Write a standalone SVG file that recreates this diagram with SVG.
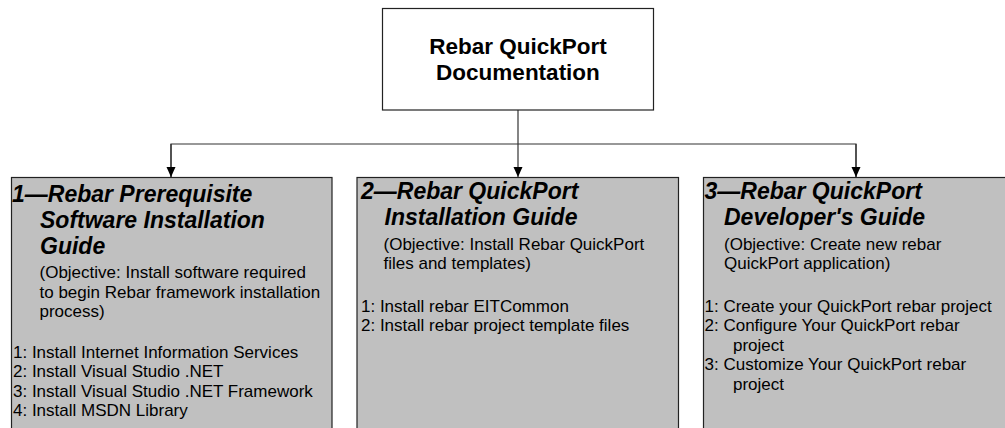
<svg xmlns="http://www.w3.org/2000/svg" width="1005" height="428" viewBox="0 0 1005 428">
<style>
.box{stroke:#222;stroke-width:1.2}
.top{fill:#fff}
.guide{fill:#c0c0c0}
.t{font-family:"Liberation Sans",Arial,sans-serif;fill:#000}
.h{font-size:22.5px;font-weight:bold}
.ht{font-size:23px;font-weight:bold;font-style:italic}
.b{font-size:17px}
.con{stroke:#333;stroke-width:1.2;fill:none}
</style>
<defs>
<marker id="arr" markerWidth="10" markerHeight="10" refX="10" refY="5" orient="auto" markerUnits="userSpaceOnUse">
<path d="M0,0.5 L10,5 L0,9.5 Z" fill="#000"/>
</marker>
</defs>
<g id="connectors">
<line class="con" x1="518" y1="110" x2="518" y2="177" marker-end="url(#arr)"/>
<polyline class="con" points="171,177 171,144 856,144 856,177"/>
<line class="con" x1="171" y1="144" x2="171" y2="177" marker-end="url(#arr)"/>
<line class="con" x1="856" y1="144" x2="856" y2="177" marker-end="url(#arr)"/>
</g>
<g id="root">
<rect class="box top" x="382.5" y="8.5" width="271" height="101.5"/>
<text class="t h" text-anchor="middle" x="518" y="53.5">Rebar QuickPort</text>
<text class="t h" text-anchor="middle" x="518" y="79.5">Documentation</text>
</g>
<g id="guide1">
<rect class="box guide" x="11.5" y="177.5" width="320.5" height="260"/>
<text class="t ht" x="12" y="201.5">1—Rebar Prerequisite</text>
<text class="t ht" x="40" y="227.5">Software Installation</text>
<text class="t ht" x="40" y="253.5">Guide</text>
<text class="t b" x="39.5" y="278">(Objective: Install software required</text>
<text class="t b" x="39.5" y="297.5">to begin Rebar framework installation</text>
<text class="t b" x="39.5" y="317">process)</text>
<text class="t b" x="13" y="357.5">1: Install Internet Information Services</text>
<text class="t b" x="13" y="377">2: Install Visual Studio .NET</text>
<text class="t b" x="13" y="396.5">3: Install Visual Studio .NET Framework</text>
<text class="t b" x="13" y="416">4: Install MSDN Library</text>
</g>
<g id="guide2">
<rect class="box guide" x="357" y="177.5" width="321.5" height="260"/>
<text class="t ht" x="361" y="198.5">2—Rebar QuickPort</text>
<text class="t ht" x="384.5" y="225">Installation Guide</text>
<text class="t b" x="383.5" y="250">(Objective: Install Rebar QuickPort</text>
<text class="t b" x="383.5" y="269">files and templates)</text>
<text class="t b" x="361" y="311.5">1: Install rebar EITCommon</text>
<text class="t b" x="361" y="331">2: Install rebar project template files</text>
</g>
<g id="guide3">
<rect class="box guide" x="703.5" y="177.5" width="320" height="260"/>
<text class="t ht" x="704.5" y="198.5">3—Rebar QuickPort</text>
<text class="t ht" x="724" y="225">Developer's Guide</text>
<text class="t b" x="724" y="250">(Objective: Create new rebar</text>
<text class="t b" x="724" y="269">QuickPort application)</text>
<text class="t b" x="704.5" y="311.5">1: Create your QuickPort rebar project</text>
<text class="t b" x="704.5" y="331">2: Configure Your QuickPort rebar</text>
<text class="t b" x="733" y="350.5">project</text>
<text class="t b" x="704.5" y="370">3: Customize Your QuickPort rebar</text>
<text class="t b" x="733" y="389.5">project</text>
</g>
</svg>
